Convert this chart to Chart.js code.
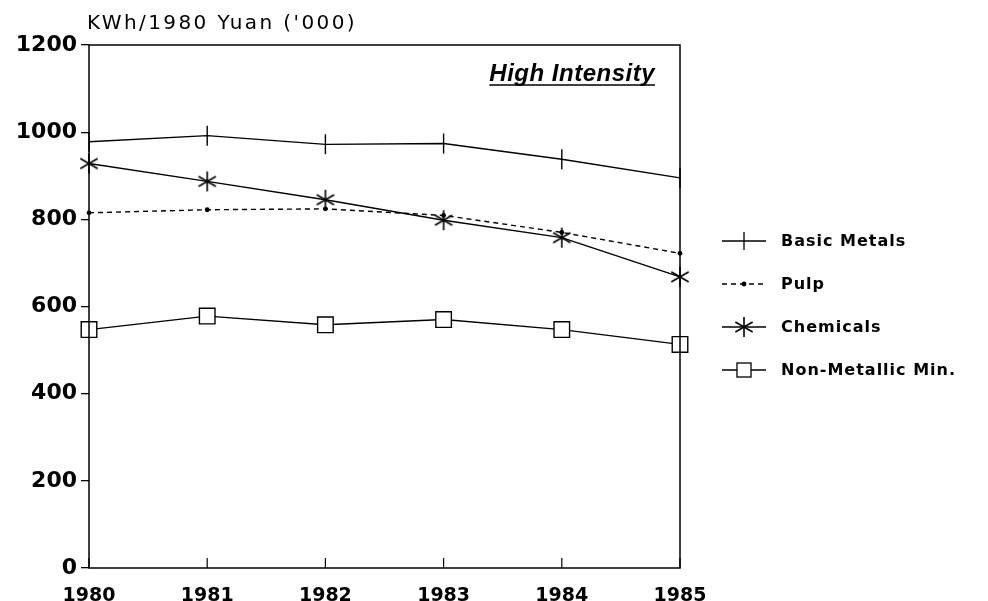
<!DOCTYPE html>
<html>
<head>
<meta charset="utf-8">
<script src="https://cdn.jsdelivr.net/npm/chart.js@4/dist/chart.umd.min.js"></script>
<style>
  html, body { margin: 0; padding: 0; background: #fff; }
  #wrap { width: 988px; height: 601px; }
</style>
</head>
<body>
<div id="wrap"><canvas id="chart" width="988" height="601"></canvas></div>
<script>
// values
const years = ['1980', '1981', '1982', '1983', '1984', '1985'];
const basicMetals = [978, 992, 972, 974, 938, 895];
const pulp = [815, 822, 824, 809, 770, 722];
const chemicals = [928, 887, 845, 798, 758, 668];
const nonMetallic = [547, 578, 558, 570, 547, 513];

const FONT = '"DejaVu Sans", Verdana, sans-serif';
const FONT_IT = '"Liberation Sans", Arial, sans-serif';

// 6-spoke asterisk for Chemicals
function makeAsterisk(r) {
    const c = document.createElement('canvas');
    c.width = c.height = r * 2 + 4;
    const g = c.getContext('2d');
    const m = r + 2;
    g.strokeStyle = '#000';
    g.lineWidth = 1.6;
    g.beginPath();
    for (let i = 0; i < 3; i++) {
        const a = Math.PI / 2 + i * Math.PI / 3;
        g.moveTo(m + Math.cos(a) * r, m + Math.sin(a) * r);
        g.lineTo(m - Math.cos(a) * r, m - Math.sin(a) * r);
    }
    g.stroke();
    return c;
}
const asterisk = makeAsterisk(10);

const frame = {
    id: 'frame',
    afterDraw(chart) {
        const { ctx, chartArea: a, scales } = chart;
        ctx.save();
        ctx.strokeStyle = '#000';
        ctx.fillStyle = '#000';
        ctx.lineWidth = 1.5;
        ctx.strokeRect(a.left, a.top, a.right - a.left, a.bottom - a.top);

        // inward x ticks
        ctx.lineWidth = 1.2;
        years.forEach((y, i) => {
            const x = scales.x.getPixelForValue(i);
            ctx.beginPath();
            ctx.moveTo(x, a.bottom);
            ctx.lineTo(x, a.bottom - 10);
            ctx.stroke();
        });

        // axis title
        ctx.font = '20px ' + FONT;
        ctx.letterSpacing = '2.4px';
        ctx.textBaseline = 'alphabetic';
        ctx.textAlign = 'left';
        ctx.fillText("KWh/1980 Yuan ('000)", 87, 29);

        // panel label
        ctx.letterSpacing = '0.5px';
        ctx.font = 'italic bold 24px ' + FONT_IT;
        ctx.textAlign = 'right';
        const t = 'High Intensity';
        const tx = 655, ty = 81;
        ctx.fillText(t, tx, ty);
        const w = ctx.measureText(t).width;
        ctx.lineWidth = 1.6;
        ctx.beginPath();
        ctx.moveTo(tx - w, ty + 4);
        ctx.lineTo(tx, ty + 4);
        ctx.stroke();

        // legend
        ctx.font = 'bold 16px ' + FONT;
        ctx.letterSpacing = '1px';
        ctx.textAlign = 'left';
        ctx.textBaseline = 'middle';
        chart.data.datasets.forEach((ds, i) => {
            const y = 241 + i * 43;
            ctx.lineWidth = 1.3;
            ctx.setLineDash(ds.borderDash || []);
            ctx.beginPath();
            ctx.moveTo(722, y);
            ctx.lineTo(766, y);
            ctx.stroke();
            ctx.setLineDash([]);
            const mx = 744;
            const ps = ds.pointStyle;
            if (ps === 'line') {
                ctx.beginPath();
                ctx.moveTo(mx, y - 9);
                ctx.lineTo(mx, y + 9);
                ctx.stroke();
            } else if (ps === 'circle') {
                ctx.beginPath();
                ctx.arc(mx, y, 2.4, 0, Math.PI * 2);
                ctx.fill();
            } else if (ps === 'rect') {
                ctx.fillStyle = '#fff';
                ctx.fillRect(mx - 7, y - 7, 14, 14);
                ctx.strokeRect(mx - 7, y - 7, 14, 14);
                ctx.fillStyle = '#000';
            } else if (ps instanceof HTMLCanvasElement) {
                ctx.drawImage(ps, mx - ps.width / 2, y - ps.height / 2);
            }
            ctx.fillText(ds.label, 781, y + 1);
        });
        ctx.restore();
    }
};

const common = {
    borderColor: '#000',
    borderWidth: 1.4,
    pointBorderColor: '#000',
    pointBackgroundColor: '#000',
    pointBorderWidth: 1.4,
    fill: false,
    tension: 0
};

new Chart(document.getElementById('chart'), {
    type: 'line',
    data: {
        labels: years,
        datasets: [
            Object.assign({}, common, {
                label: 'Basic Metals',
                data: basicMetals,
                pointStyle: 'line',
                pointRotation: 90,
                pointRadius: 10
            }),
            Object.assign({}, common, {
                label: 'Pulp',
                data: pulp,
                borderDash: [5, 4],
                pointStyle: 'circle',
                pointRadius: 2.4,
                pointBorderWidth: 0
            }),
            Object.assign({}, common, {
                label: 'Chemicals',
                data: chemicals,
                pointStyle: asterisk,
                pointRadius: 10
            }),
            Object.assign({}, common, {
                label: 'Non-Metallic Min.',
                data: nonMetallic,
                pointStyle: 'rect',
                pointRadius: 11,
                pointBackgroundColor: '#fff'
            })
        ]
    },
    options: {
        responsive: false,
        animation: false,
        events: [],
        layout: { padding: { top: 45, right: 308, bottom: 0, left: 0 } },
        plugins: { legend: { display: false }, tooltip: { enabled: false } },
        scales: {
            x: {
                offset: false,
                grid: { display: false },
                border: { display: false },
                ticks: {
                    color: '#000',
                    font: { family: FONT, size: 19, weight: 'bold' },
                    padding: 9,
                    maxRotation: 0
                },
                afterFit: s => { s.height = 33; }
            },
            y: {
                min: 0,
                max: 1200,
                grid: { drawOnChartArea: false, tickLength: 8, color: '#000', lineWidth: 1.3 },
                border: { display: false },
                ticks: {
                    stepSize: 200,
                    color: '#000',
                    font: { family: FONT, size: 22, weight: 'bold' },
                    padding: 4,
                    callback: v => String(v)
                },
                afterFit: s => { s.width = 89; }
            }
        }
    },
    plugins: [frame]
});
</script>
</body>
</html>
